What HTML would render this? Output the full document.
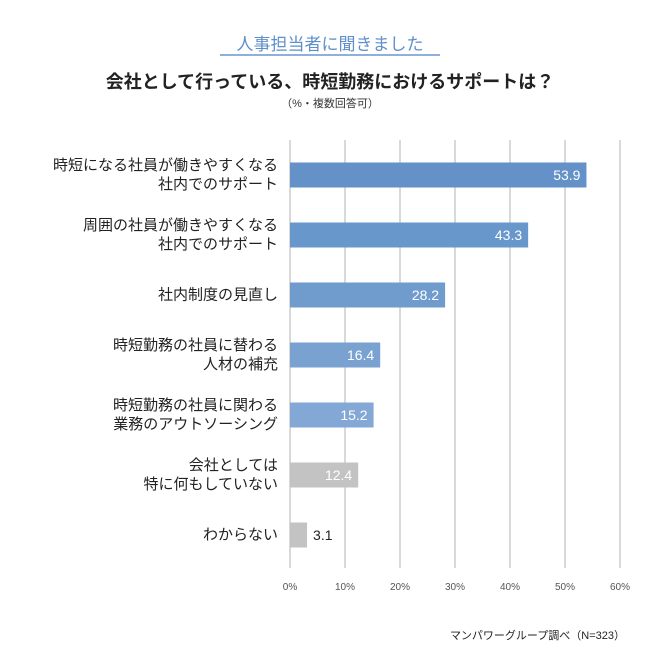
<!DOCTYPE html>
<html><head><meta charset="utf-8">
<style>
body{margin:0;background:#fff;font-family:"Liberation Sans","Noto Sans CJK JP",sans-serif;}
.wrap{position:relative;width:660px;height:670px;overflow:hidden;}
.head{position:absolute;left:0;width:660px;text-align:center;top:30px;font-size:17px;color:#5f8fca;}
.uline{position:absolute;left:220px;top:54px;width:220px;height:2px;background:#8fb0dc;}
.title{position:absolute;left:0;width:660px;text-align:center;top:68px;font-size:18px;font-weight:bold;color:#222;}
.sub{position:absolute;left:0;width:660px;text-align:center;top:95px;font-size:11px;color:#333;}
.cat{position:absolute;right:382px;text-align:right;font-size:15px;line-height:19px;color:#222;transform:translateY(-50%);white-space:nowrap;}
.src{position:absolute;right:35px;top:627px;font-size:11px;color:#222;}
</style></head><body>
<div class="wrap">
<div class="head">人事担当者に聞きました</div>
<div class="uline"></div>
<div class="title">会社として行っている、時短勤務におけるサポートは？</div>
<div class="sub">（%・複数回答可）</div>
<div id="cats"></div>
<svg id="chart" width="660" height="670" style="position:absolute;left:0;top:0"></svg>
<div class="src">マンパワーグループ調べ（N=323）</div>
</div>
<script>
const categories=[["時短になる社員が働きやすくなる","社内でのサポート"],["周囲の社員が働きやすくなる","社内でのサポート"],["社内制度の見直し"],["時短勤務の社員に替わる","人材の補充"],["時短勤務の社員に関わる","業務のアウトソーシング"],["会社としては","特に何もしていない"],["わからない"]];
const values=[53.9,43.3,28.2,16.4,15.2,12.4,3.1];
const ticks=[0,10,20,30,40,50,60];
const colors=["#6391c8","#6897cb","#6f9bcd","#7aa2d1","#84a8d5","#c3c3c3","#c3c3c3"];
const NS="http://www.w3.org/2000/svg";
const svg=document.getElementById('chart');
const x=v=>290+v*5.5;
const yc=i=>175+i*60;
function mk(t,a){const e=document.createElementNS(NS,t);for(const k in a)e.setAttribute(k,a[k]);svg.appendChild(e);return e;}
ticks.forEach(t=>{
 const g=mk('line',{x1:x(t),x2:x(t),y1:140,y2:568,stroke:'#d9d9d9','stroke-width':2});
 
 
 const l=mk('text',{x:x(t),y:590,'text-anchor':'middle','font-size':10,fill:'#555','font-family':'Liberation Sans, sans-serif'});
 l.textContent=t+'%';
 
 
});
const cd=document.getElementById('cats');
values.forEach((v,i)=>{
 const r=mk('rect',{x:290,y:yc(i)-12.5,width:x(v)-290,height:25,fill:colors[i]});
 
 
 const inside=v>8;
 const t=mk('text',{x:inside?x(v)-6:x(v)+6,y:yc(i)+5,'text-anchor':inside?'end':'start','font-size':14,fill:inside?'#fff':'#222','font-family':'Liberation Sans, sans-serif'});
 t.textContent=v.toFixed(1);
 
 
 const d=document.createElement('div');
 d.className='cat';
 d.style.top=yc(i)+'px';
 d.innerHTML=categories[i].join('<br>');
 
 
 cd.appendChild(d);
});
</script>
</body></html>
